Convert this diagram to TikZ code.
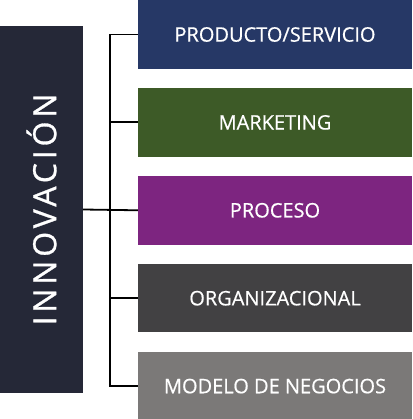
\documentclass[tikz,border=0pt]{standalone}
\usepackage{fontspec}
\usetikzlibrary{positioning}
\newfontfamily\boxfont[FakeBold=0.6]{Open Sans}
\newfontfamily\titlefont[LetterSpace=12,FakeBold=0.9]{Open Sans}
\definecolor{innovcol}{HTML}{252837}
\definecolor{prodcol}{HTML}{263866}
\definecolor{markcol}{HTML}{3D5A27}
\definecolor{proccol}{HTML}{7D2580}
\definecolor{orgcol}{HTML}{424143}
\definecolor{modcol}{HTML}{7B7978}

\begin{document}
\begin{tikzpicture}[x=1pt,y=-1pt,
	areabox/.style={minimum width=274pt, minimum height=68.5pt, inner sep=0pt, text=white, font=\boxfont\fontsize{20}{22}\selectfont},
	bus/.style={line width=1.8pt}]
	\useasboundingbox (0,0) rectangle (412,419);
	\node[fill=innovcol, minimum width=83pt, minimum height=367pt, inner sep=0pt] (innov) at (41.5,209.5) {};
	\node[rotate=90, text=white, font=\titlefont\fontsize{32}{34}\selectfont] at (innov.center) {INNOVACIÓN};
	\node[areabox, fill=prodcol] (prod) at (275,34.5) {PRODUCTO/SERVICIO};
	\node[areabox, fill=markcol, below=19pt of prod] (mark) {MARKETING};
	\node[areabox, fill=proccol, below=19pt of mark] (proc) {PROCESO};
	\node[areabox, fill=orgcol, below=19pt of proc] (org) {ORGANIZACIONAL};
	\node[areabox, fill=modcol, below=19pt of org] (mod) {MODELO DE NEGOCIOS};
	\draw[bus] (prod.west) -- ++(-28,0) |- (mod.west);
	\draw[bus] (innov.east) -- (proc.west);
	\draw[bus] (mark.west) -- ++(-28,0);
	\draw[bus] (org.west) -- ++(-28,0);
\end{tikzpicture}
\end{document}
